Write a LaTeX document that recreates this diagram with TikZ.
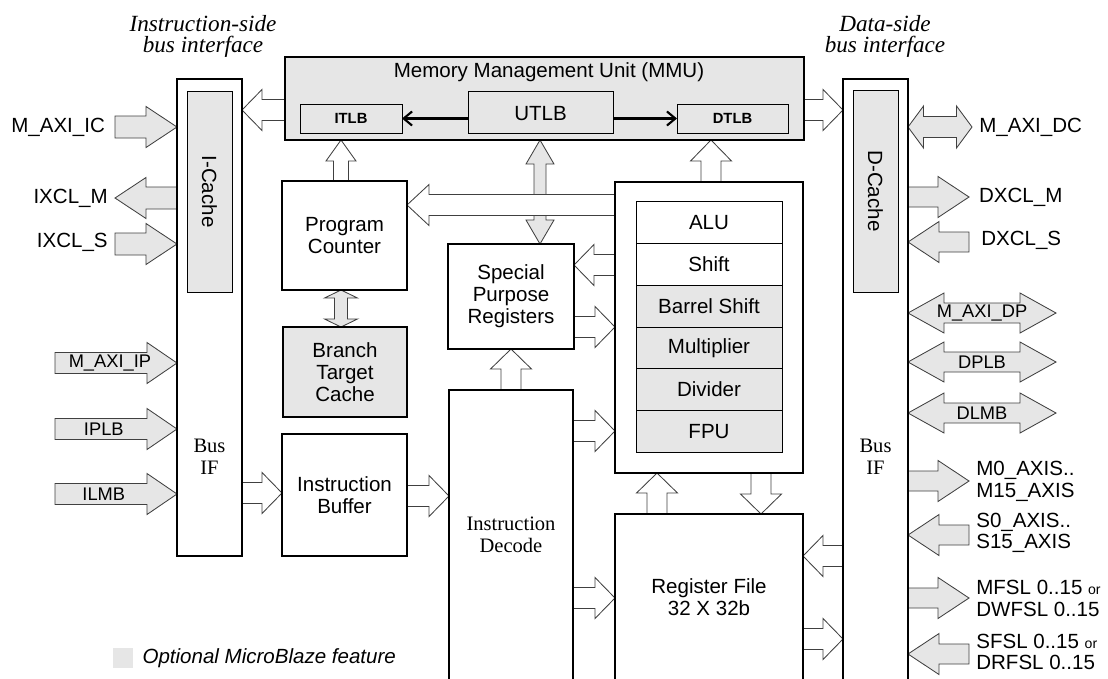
\documentclass[tikz,border=0pt]{standalone}
\usepackage{fontspec}
\setmainfont{Liberation Sans}
\newfontfamily\tms{Liberation Serif}
\usetikzlibrary{calc,positioning,fit,backgrounds,arrows.meta}
\definecolor{optgray}{RGB}{230,230,230}
\newcommand{\mainfs}{\fontsize{14.6pt}{15.6pt}\selectfont}
\newcommand{\busfs}{\fontsize{13pt}{14pt}\selectfont}
\newcommand{\tlbfs}{\fontsize{10.5pt}{12pt}\selectfont\bfseries}
\newcommand{\headfs}{\tms\itshape\fontsize{16.5pt}{15pt}\selectfont}
\newcommand{\serfs}{\tms\fontsize{14.6pt}{15.6pt}\selectfont}
\newcommand{\orfs}{\fontsize{10pt}{12pt}\selectfont}
\tikzset{
  blk/.style={draw, line width=2pt, inner sep=0pt, outer sep=0pt},
  optfill/.style={fill=optgray},
  tlb/.style={draw, line width=0.7pt, inner sep=0pt, outer sep=0pt, fill=optgray},
  txt/.style={align=center, font=\mainfs},
  unit/.style={draw, line width=0.7pt, inner sep=0pt, outer sep=0pt, minimum width=3.65cm, minimum height=1.0417cm, font=\mainfs},
  lab/.style={inner sep=0pt, font=\mainfs, align=left},
  head/.style={align=center, font=\headfs},
  tlbarrow/.style={line width=1.5pt, -{Straight Barb[length=6pt,width=10pt]}},
  shaft/.code={\pgfmathsetmacro\bshaft{#1*0.7113}},
  headw/.code={\pgfmathsetmacro\bheadw{#1*0.7113}},
  headl/.code={\pgfmathsetmacro\bheadl{#1*0.7113}},
  bus/.style={draw=black!75, line width=0.6pt, fill=white, shaft=10.5, headw=20.5, headl=20,
    to path={let \p1=(\tikztostart), \p2=(\tikztotarget), \p3=($(\p2)!\bheadl pt!(\p1)$) in
      ($(\p1)!\bshaft pt!90:(\p2)$) -- ($(\p3)!\bshaft pt!-90:(\p1)$)
      -- ($(\p3)!\bheadw pt!-90:(\p1)$) -- (\p2) -- ($(\p3)!\bheadw pt!90:(\p1)$)
      -- ($(\p3)!\bshaft pt!90:(\p1)$) -- ($(\p1)!\bshaft pt!-90:(\p2)$) -- cycle}},
  bibus/.style={bus,
    to path={let \p1=(\tikztostart), \p2=(\tikztotarget), \p3=($(\p1)!\bheadl pt!(\p2)$), \p4=($(\p2)!\bheadl pt!(\p1)$) in
      (\p1) -- ($(\p3)!\bheadw pt!90:(\p2)$) -- ($(\p3)!\bshaft pt!90:(\p2)$)
      -- ($(\p4)!\bshaft pt!-90:(\p1)$) -- ($(\p4)!\bheadw pt!-90:(\p1)$) -- (\p2)
      -- ($(\p4)!\bheadw pt!90:(\p1)$) -- ($(\p4)!\bshaft pt!90:(\p1)$)
      -- ($(\p3)!\bshaft pt!-90:(\p2)$) -- ($(\p3)!\bheadw pt!-90:(\p2)$) -- cycle}},
  ext/.style={bus, fill=optgray, shaft=11, headl=31},
  extbi/.style={bibus, fill=optgray, shaft=10, headw=20, headl=36},
}
\begin{document}
\begin{tikzpicture}[x=0.025cm, y=-0.025cm]
\useasboundingbox (0,0) rectangle (1108,678);
\clip (0,0) rectangle (1108,678);

% headings
\node[head] (ihead) at (203,36) {Instruction-side\\bus interface};
\node[head] (dhead) at (885,36) {Data-side\\bus interface};

% MMU
\node[blk, optfill, fit={(285,57) (804,140)}] (mmu) {};
\node[txt] (mmutxt) at (549,72) {Memory Management Unit (MMU)};
\node[tlb, fit={(300,104) (402,133)}] (itlb) {};
\node[tlb, fit={(468,91) (613,133)}] (utlb) {};
\node[tlb, fit={(677,104) (788,133)}] (dtlb) {};
\node[font=\tlbfs] at (itlb) {ITLB};
\node[txt] at ([yshift=-1pt]utlb) {UTLB};
\node[font=\tlbfs] at (dtlb) {DTLB};
\draw[tlbarrow] (utlb.west |- itlb.east) -- (itlb.east);
\draw[tlbarrow] (utlb.east |- dtlb.west) -- (dtlb.west);

% bus interfaces
\node[blk, fit={(177,79) (242,556)}] (busL) {};
\node[tlb, fit={(187,91) (232,292)}] (icache) {};
\node[rotate=-90, font=\mainfs] (icachetxt) at (icache) {I-Cache};
\node[align=center, font=\serfs] (busLtxt) at (209.5,457) {Bus\\IF};
\node[blk, fit={(843,79) (908,680)}] (busR) {};
\node[tlb, fit={(853,90) (898,292)}] (dcache) {};
\node[rotate=-90, font=\mainfs] (dcachetxt) at (dcache) {D-Cache};
\node[align=center, font=\serfs] (busRtxt) at (875.5,457) {Bus\\IF};

% core blocks
\node[blk, fit={(282,181) (407,290)}] (pc) {};
\node[blk, optfill, fit={(283,327) (407,417)}] (btc) {};
\node[blk, fit={(282,434) (407,556)}] (ibuf) {};
\node[blk, fit={(448,244) (574,349)}] (spr) {};
\node[blk, fit={(449,390) (573,680)}] (idec) {};
\node[blk, fit={(615,182) (803,473)}] (exu) {};
\node[blk, fit={(615,514) (803,680)}] (rf) {};
\node[txt] at (pc) {Program\\Counter};
\node[txt] at (btc) {Branch\\Target\\Cache};
\node[txt] at (ibuf) {Instruction\\Buffer};
\node[txt] at (spr) {Special\\Purpose\\Registers};
\node[txt, font=\serfs] at (idec) {Instruction\\Decode};
\node[txt] at (rf) {Register File\\32 X 32b};
\node[unit] (alu) at (709,222.8) {ALU};
\node[unit, below=0pt of alu] (shift) {Shift};
\node[unit, optfill, below=0pt of shift] (barrel) {Barrel Shift};
\node[unit, optfill, below=0pt of barrel] (mult) {Multiplier};
\node[unit, optfill, below=0pt of mult] (div) {Divider};
\node[unit, optfill, below=0pt of div] (fpu) {FPU};

% free ends of external buses
\coordinate (maxiic) at (115,127);
\coordinate (ixclm) at (115,198);
\coordinate (ixcls) at (115,244);
\coordinate (maxiip) at (55,363);
\coordinate (iplb) at (55,429);
\coordinate (ilmb) at (55,494);
\coordinate (maxidc) at (972,127);
\coordinate (dxclm) at (969,197);
\coordinate (dxcls) at (969,242);
\coordinate (maxidp) at (1056,313);
\coordinate (dplb) at (1056,362);
\coordinate (dlmb) at (1056,413);
\coordinate (maxis) at (969,481);
\coordinate (saxis) at (969,535);
\coordinate (mfsl) at (969,598);
\coordinate (sfsl) at (969,654);

\begin{pgfonlayer}{background}
% internal buses
\draw[bibus, fill=optgray, shaft=6, headw=14, headl=24] (540,0 |- mmu.south) to (540,0 |- spr.north);
\draw[bus] (mmu.west |- 0,110) to (busL.east |- 0,110);
\draw[bus] (mmu.east |- 0,110) to (busR.west |- 0,110);
\draw[bus, shaft=7.5, headw=15, headl=21] (341,0 |- pc.north) to (341,0 |- mmu.south);
\draw[bibus, fill=optgray, shaft=6.5, headw=16.5, headl=8] (341,0 |- pc.south) to (341,0 |- btc.north);
\draw[bus, headl=22] (exu.west |- 0,205) to (pc.east |- 0,205);
\draw[bus, shaft=10, headl=21] (711,0 |- exu.north) to (711,0 |- mmu.south);
\draw[bus] (exu.west |- 0,265) to (spr.east |- 0,265);
\draw[bus] (spr.east |- 0,327) to (exu.west |- 0,327);
\draw[bus, shaft=10] (511,0 |- idec.north) to (511,0 |- spr.south);
\draw[bus] (busL.east |- 0,493) to (ibuf.west |- 0,493);
\draw[bus] (ibuf.east |- 0,496) to (idec.west |- 0,496);
\draw[bus] (idec.east |- 0,431) to (exu.west |- 0,431);
\draw[bus] (idec.east |- 0,598) to (rf.west |- 0,598);
\draw[bus, shaft=10] (657,0 |- rf.north) to (657,0 |- exu.south);
\draw[bus, shaft=10] (761,0 |- exu.south) to (761,0 |- rf.north);
\draw[bus] (busR.west |- 0,556) to (rf.east |- 0,556);
\draw[bus] (rf.east |- 0,639) to (busR.west |- 0,639);

% instruction side
\draw[ext] (maxiic) to (busL.west |- maxiic);
\draw[ext] (busL.west |- ixclm) to (ixclm);
\draw[ext] (ixcls) to (busL.west |- ixcls);
\draw[ext, shaft=10.5, headl=30] (maxiip) to (busL.west |- maxiip);
\draw[ext, shaft=10.5, headl=30] (iplb) to (busL.west |- iplb);
\draw[ext, shaft=10.5, headl=30] (ilmb) to (busL.west |- ilmb);

% data side
\draw[extbi, shaft=10.5, headw=21, headl=15.5] (busR.east |- maxidc) to (maxidc);
\draw[ext, shaft=10] (busR.east |- dxclm) to (dxclm);
\draw[ext, shaft=10] (dxcls) to (busR.east |- dxcls);
\draw[extbi] (busR.east |- maxidp) to (maxidp);
\draw[extbi] (busR.east |- dplb) to (dplb);
\draw[extbi] (busR.east |- dlmb) to (dlmb);
\draw[ext, shaft=10] (busR.east |- maxis) to (maxis);
\draw[ext, shaft=10] (saxis) to (busR.east |- saxis);
\draw[ext, shaft=10] (busR.east |- mfsl) to (mfsl);
\draw[ext, shaft=10] (sfsl) to (busR.east |- sfsl);
\end{pgfonlayer}

% labels
\node[lab, left=7pt of maxiic] (lmaxiic) {M\_AXI\_IC};
\node[lab, left=5pt of ixclm] (lixclm) {IXCL\_M};
\node[lab, left=5pt of ixcls, yshift=1pt] (lixcls) {IXCL\_S};
\path (maxiip) -- (busL.west |- maxiip) node[pos=0.45, font=\busfs] (lmaxiip) {M\_AXI\_IP};
\path (iplb) -- (busL.west |- iplb) node[pos=0.4, font=\busfs] (liplb) {IPLB};
\path (ilmb) -- (busL.west |- ilmb) node[pos=0.4, font=\busfs] (lilmb) {ILMB};
\node[lab, right=5pt of maxidc] (lmaxidc) {M\_AXI\_DC};
\node[lab, right=7pt of dxclm] (ldxclm) {DXCL\_M};
\node[lab, right=8.5pt of dxcls, yshift=1pt] (ldxcls) {DXCL\_S};
\path (busR.east |- maxidp) -- (maxidp) node[midway, font=\busfs] (lmaxidp) {M\_AXI\_DP};
\path (busR.east |- dplb) -- (dplb) node[midway, font=\busfs] (ldplb) {DPLB};
\path (busR.east |- dlmb) -- (dlmb) node[midway, font=\busfs] (ldlmb) {DLMB};
\node[lab, right=5pt of maxis] (lmaxis) {M0\_AXIS..\\M15\_AXIS};
\node[lab, right=5pt of saxis, yshift=1.5pt] (lsaxis) {S0\_AXIS..\\S15\_AXIS};
\node[lab, right=5pt of mfsl] (lmfsl) {MFSL 0..15 {\orfs or}\\DWFSL 0..15};
\node[lab, right=5pt of sfsl, yshift=1.5pt] (lsfsl) {SFSL 0..15 {\orfs or}\\DRFSL 0..15};

% legend
\node[fill=optgray, inner sep=0pt, minimum size=0.5cm] (legbox) at (123,658) {};
\node[lab, font=\mainfs\itshape, right=6.4pt of legbox] (legtxt) {Optional MicroBlaze feature};
\end{tikzpicture}
\end{document}
